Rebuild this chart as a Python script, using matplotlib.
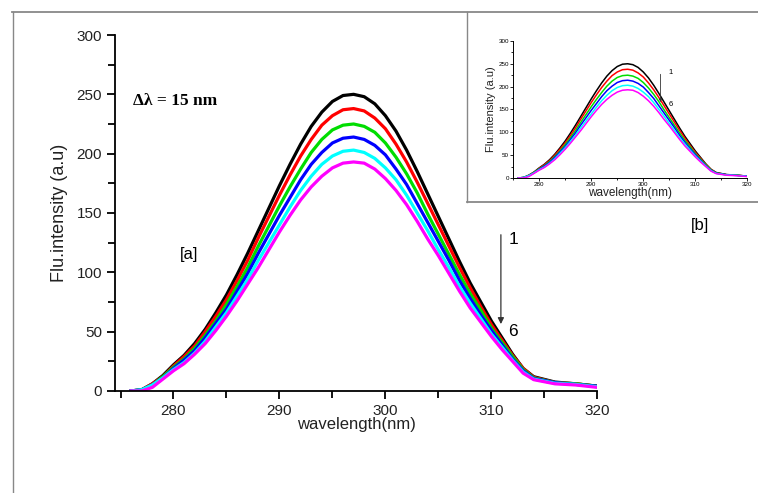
import matplotlib
matplotlib.use("Agg")
import matplotlib.pyplot as plt
from matplotlib.lines import Line2D
from matplotlib.ticker import MultipleLocator

# wavelength grid (nm)
wl = [276, 277, 278, 279, 280, 281, 282, 283, 284, 285, 286, 287, 288, 289,
      290, 291, 292, 293, 294, 295, 296, 297, 298, 299, 300, 301, 302, 303,
      304, 305, 306, 307, 308, 309, 310, 311, 312, 313, 314, 316, 318, 320]

# spectra 1..6
s1 = [0, 1, 6, 13, 22, 30, 40, 52, 66, 81, 98, 116, 135, 154,
      173, 191, 208, 223, 235, 244, 249, 250, 248, 242, 232, 219, 203, 185,
      166, 147, 128, 109, 91, 75, 59, 45, 31, 19, 12, 7.5, 6, 4]
s2 = [0, 1, 6, 12, 21, 29, 38, 50, 63, 77, 93, 110, 129, 147,
      165, 182, 198, 212, 224, 232, 237, 238, 236, 230, 221, 208, 193, 176,
      158, 140, 122, 104, 87, 71, 56, 43, 30, 19, 11.5, 7, 6, 4]
s3 = [0, 1, 5, 12, 20, 27, 36, 47, 59, 73, 88, 104, 122, 139,
      156, 172, 187, 201, 212, 220, 224, 225, 223, 218, 209, 197, 183, 167,
      149, 132, 115, 98, 82, 68, 53, 41, 29, 18, 11, 7, 6, 4]
s4 = [0, 1, 5, 11, 19, 26, 34, 45, 57, 69, 84, 99, 116, 132,
      148, 163, 178, 191, 201, 209, 213, 214, 212, 207, 199, 187, 174, 158,
      142, 126, 110, 93, 78, 64, 51, 39, 27, 17, 10.5, 7, 5.5, 4]
s5 = [0, 1, 5, 11, 18, 24, 32, 42, 54, 66, 80, 94, 110, 125,
      140, 155, 169, 181, 191, 198, 202, 203, 201, 196, 188, 178, 165, 150,
      135, 119, 104, 88, 74, 61, 48, 37, 26, 16, 10, 6.5, 5.5, 3.5]
s6 = [0, 0, 3, 10, 17, 23, 31, 40, 51, 63, 76, 90, 104, 119,
      134, 148, 161, 172, 181, 188, 192, 193, 192, 187, 179, 169, 157, 143,
      128, 114, 99, 84, 70, 58, 46, 35, 25, 15, 9.5, 6, 5, 3]

spectra = [s1, s2, s3, s4, s5, s6]
colors = ["black", "red", "#00dd00", "blue", "cyan", "magenta"]

plt.rcParams['font.family'] = ['Liberation Sans', 'DejaVu Sans']

fig = plt.figure(figsize=(7.58, 4.93), dpi=100)

# main panel [a]
ax = fig.add_axes([0.152, 0.207, 0.636, 0.722])
for y, c in zip(spectra, colors):
    ax.plot(wl, y, color=c, lw=2.3, solid_joinstyle='round')
ax.set_xlim(274.5, 320)
ax.set_ylim(0, 300)
ax.xaxis.set_major_locator(MultipleLocator(10))
ax.xaxis.set_minor_locator(MultipleLocator(5))
ax.yaxis.set_major_locator(MultipleLocator(50))
ax.yaxis.set_minor_locator(MultipleLocator(25))
for s in ['top', 'right']:
    ax.spines[s].set_visible(False)
for s in ['left', 'bottom']:
    ax.spines[s].set_linewidth(1.3)
ax.tick_params(which='both', direction='out', width=1.3, labelsize=11,
               labelcolor='#222222')
ax.tick_params(which='major', length=6)
ax.tick_params(which='minor', length=5)
ax.set_xlabel("wavelength(nm)", fontsize=12, labelpad=-1, color='#222222')
ax.set_ylabel("Flu.intensity (a.u)", fontsize=13, labelpad=6, color='#222222')

ax.text(276.2, 244, "Δλ = 15 nm", family=['Liberation Serif', 'DejaVu Serif'],
        fontweight='bold', fontsize=12.5, va='center')
ax.text(281.5, 115, "[a]", fontsize=12, ha='center', va='center')
ax.annotate("", xy=(310.9, 54), xytext=(310.9, 134),
            arrowprops=dict(arrowstyle='-|>', color='#333333', lw=0.9,
                            mutation_scale=9))
ax.text(311.6, 128, "1", fontsize=12.5, va='center')
ax.text(311.6, 50, "6", fontsize=12.5, va='center')

# inset panel [b]
axi = fig.add_axes([0.677, 0.639, 0.309, 0.278])
for y, c in zip(spectra, colors):
    axi.plot(wl, y, color=c, lw=1.1)
axi.set_xlim(275, 320)
axi.set_ylim(0, 300)
axi.xaxis.set_major_locator(MultipleLocator(10))
axi.xaxis.set_minor_locator(MultipleLocator(5))
axi.yaxis.set_major_locator(MultipleLocator(50))
axi.yaxis.set_minor_locator(MultipleLocator(25))
for s in ['top', 'right']:
    axi.spines[s].set_visible(False)
for s in ['left', 'bottom']:
    axi.spines[s].set_linewidth(0.7)
axi.tick_params(which='both', direction='out', width=0.6, labelsize=4.5, pad=1)
axi.tick_params(which='major', length=2)
axi.tick_params(which='minor', length=1.5)
axi.set_xlabel("wavelength(nm)", fontsize=8.5, labelpad=0, color='#222222')
axi.set_ylabel("Flu.intensity (a.u)", fontsize=8, labelpad=2, color='#222222')
axi.annotate("", xy=(303.3, 160), xytext=(303.3, 233),
             arrowprops=dict(arrowstyle='-|>', color='#333333', lw=0.6,
                             mutation_scale=4))
axi.text(304.8, 230, "1", fontsize=5.5, va='center')
axi.text(304.8, 160, "6", fontsize=5.5, va='center')

fig.text(700 / 758, 1 - 225 / 493, "[b]", fontsize=12, ha='center', va='center')

# frame lines
gray = '#888888'
top_y = 1 - 12 / 493
box_y = 1 - 202 / 493
fig.add_artist(Line2D([12 / 758, 1], [top_y, top_y], color=gray, lw=1.3))
fig.add_artist(Line2D([13 / 758, 13 / 758], [0, top_y], color=gray, lw=1.0))
fig.add_artist(Line2D([467 / 758, 467 / 758], [box_y, top_y], color=gray, lw=1.0))
fig.add_artist(Line2D([467 / 758, 1], [box_y, box_y], color=gray, lw=1.3))

fig.savefig("out.png", dpi=100)
